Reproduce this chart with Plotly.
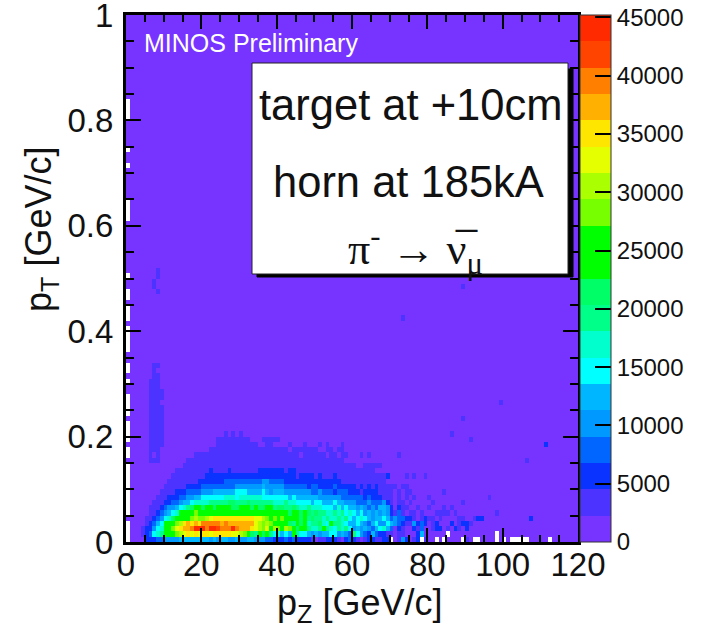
import plotly.graph_objects as go

# Colour level per bin of the pT-pZ histogram.
# One string per pT bin (0.01 GeV/c), one character per pZ bin (1 GeV/c).
# Characters 0-9,a-j are the 20 palette levels; '.' is an empty (white) bin.
ROW_LEVELS = [
    ".000022233 4444555555 5545455445 4455444332 2232322221 0112221023 2101221122 .0142012.1 00.0.0000. 10..0000.0 .0.....000 00.0000000",
    ".000123678 aabcdefefe ffefffffee dca98a9b86 7565a86654 5455664543 8643253221 1011000250 00000.0000 00000000.0",
    ".000122467 abcefgghjj jhjjihhhjh gggfedcebd cbdca9ba87 78a8768786 4545435675 3021002130 0122010210 2000000000",
    ".000012356 abbcdfgfgf hhhhhghggg ggggedcdcb aba98b9a78 8976a88765 5654356446 5432114232 0120002012 2100000000",
    "0000011234 679aaabcdc cdefffffff ffffeedcbc bcabab9a89 8878778786 5676545565 3433221012 1101000011 0012200000 0000000200",
    ".000001123 4567aaabcb aaaabbaabb bbbbabaaab aba9aa9a98 9887787867 6564545454 2131011010 0011110100 0000000010",
    ".000001112 34456789aa 9aa9aaaa99 aaa9a99aa8 9988987787 7766657565 5454343554 2021100100 1000101000",
    ".000000111 2233455677 7788888998 8898888887 7787766665 6655565544 4333433342 1011010000 0100000001",
    ".000000011 1222334455 6666667776 7777776666 6665655555 5444444333 3332322211 1010101000 1000000000 0000001000",
    ".000000001 1112223333 4445555556 6655556545 5544444443 3433323332 2212222111 1010110000 0000100000",
    ".000000000 1111112222 3333333334 4444445444 4433333323 3222232222 2121212111 1101100000",
    ".000000000 0111111112 2222223333 3333334433 3322222222 2222222111 1111111110",
    ".000000000 0011111111 1222222222 2222222222 2222212222 1211121111 1111111112 0000101001",
    ".000000000 0001111111 1121111211 1111122222 2212211111 1111111111 1111110000",
    ".000000000 0000011111 1111111111 1111111111 1111111111 1111111111 1001111100",
    "0000001110 0000001111 1111111111 1111111111 1111111111 1111111100 0000000000 0000000000 0000000000 0000000000 0000001000",
    ".000001010 0000000011 1111111111 1111111111 1111110111 1110110110 0010100000 0010000000",
    ".000001110 0000000000 0011111111 1111111111 1110111111 1001101100",
    "0000001111 0000000000 0000111111 1111100110 0001000100 0101000100 0000000000 0000000000 0000000000 0000000000 0000000000 0200000000",
    ".000001111 0000000000 0000111111 1110001111 1000000000 0000000000 0000000000 0000000000 0000000000 0100000000",
    ".000001111 0000000000 0000001010 1000000000 0000000000 0000000000 0000000000 0000000000 0000001000",
    ".000001111",
    ".000001111",
    "0000001111 0000000000 0000000000 0000000000 0000000000 0000000000 0000000000 0000000000 0000000001",
    ".000001111",
    ".000001111",
    ".000001110 0000000000 0000000000 0000000000 0000000000 0000000000 0000000000 0000000000 0000000000 0000000001",
    ".000001111",
    "0000001111",
    "0000001110",
    ".000001110",
    "0000000110",
    ".000000100",
    ".000000110",
]
# Isolated rows higher up the plot, keyed by pT bin.
UPPER_ROWS = {
    36: ".", 37: ".", 38: ".", 39: ".", 40: ".", 42: ".0000000000 0000000000 0000000000 0000000000 0000000000 0000000000 0000000000 0010000000",
    43: ".", 44: ".", 46: ".", 47: ".000000010", 48: "0000000100 0000000000 0000000000 0000000000 0000000000 0000000000 0000000000 0000000000 0000000001",
    49: "0000000100", 50: ".000000010", 51: "0000000010",
    61: ".", 62: ".", 63: ".", 64: ".", 71: ".", 74: ".", 80: ".", 81: ".", 82: ".", 83: ".",
}
N_X = 120
N_Y = 100
LEVEL_WIDTH = 2260
PALETTE = [
    "#7733ff", "#4d33ff", "#0a33ff", "#0066ff", "#0099ff", "#00b7ff", "#00ffff",
    "#00ffcc", "#00ff88", "#00ff66", "#00ff00", "#00ff00", "#77ff00", "#aaff00",
    "#e5ff00", "#ffe600", "#ffb000", "#ff8000", "#ff4400", "#ff2a00",
]
COLORBAR_DTICK = 5000
X_DTICK = 20
X_MINOR_DTICK = 5
Y_DTICK = 0.2
Y_MINOR_DTICK = 0.05

CHARS = "0123456789abcdefghij"


def decode(text):
    text = text.replace(" ", "").ljust(N_X, "0")
    return [None if c == "." else (CHARS.index(c) + 0.5) * LEVEL_WIDTH for c in text]


rows = [decode(r) for r in ROW_LEVELS]
for j in range(len(rows), N_Y):
    rows.append(decode(UPPER_ROWS.get(j, "")))

zmax = LEVEL_WIDTH * len(PALETTE)
scale = []
for k, c in enumerate(PALETTE):
    scale += [[k / len(PALETTE), c], [(k + 1) / len(PALETTE), c]]

FONT = "Liberation Sans"
W, H = 702, 634
L, R, T, B = 126, 578, 15, 542


def px(x):
    return (x - L) / (R - L)


def py(y):
    return (B - y) / (B - T)


fig = go.Figure(go.Heatmap(
    z=rows, x0=0.5, dx=1, y0=0.005, dy=0.01,
    zmin=0, zmax=zmax, colorscale=scale, hoverongaps=False, xgap=0, ygap=0,
    colorbar=dict(
        thickness=31, thicknessmode="pixels",
        len=B - T, lenmode="pixels", y=py(B), yanchor="bottom", ypad=0,
        x=px(580), xanchor="left", xpad=0,
        tickmode="linear", tick0=0, dtick=COLORBAR_DTICK, tickformat="d",
        ticks="inside", ticklen=16, tickcolor="black",
        tickwidth=2, outlinecolor="#333333", outlinewidth=1,
        ticklabeloverflow="allow",
        tickfont=dict(family=FONT, size=24, color="#111111"),
    ),
))

axis_common = dict(
    showgrid=False, zeroline=False, showline=True, linecolor="black", linewidth=3,
    mirror="allticks", ticks="inside", tickcolor="black", tickwidth=2, layer="above traces",
    ticklabeloverflow="allow", tickmode="linear", tick0=0,
    tickfont=dict(family=FONT, size=33, color="#111111"),
)
fig.update_xaxes(
    range=[0, 120], dtick=X_DTICK, ticklen=14, ticklabelstandoff=-9, **axis_common,
    minor=dict(dtick=X_MINOR_DTICK, tick0=0, ticks="inside", ticklen=7, tickcolor="black", tickwidth=2),
)
fig.update_yaxes(
    range=[0, 1], dtick=Y_DTICK, ticklen=15, ticklabelstandoff=3, **axis_common,
    minor=dict(dtick=Y_MINOR_DTICK, tick0=0, ticks="inside", ticklen=8, tickcolor="black", tickwidth=2),
)


def rect(x0, y0, x1, y1, fill, line=None):
    fig.add_shape(type="rect", xref="paper", yref="paper", x0=px(x0), x1=px(x1), y0=py(y1), y1=py(y0),
                  fillcolor=fill, line=dict(color=line or fill, width=1), layer="above")


rect(257, 69, 573, 277, "#000000")
rect(252, 63, 568, 274, "#ffffff", "#222222")


def note(text, x, y, size, color="#111111", family=FONT, angle=0, anchor="center"):
    fig.add_annotation(text=text, xref="paper", yref="paper", x=px(x), y=py(y), showarrow=False,
                       xanchor=anchor, yanchor="middle", textangle=angle,
                       font=dict(family=family, size=size, color=color))


note("MINOS Preliminary", 142, 43, 25, "#ffffff", anchor="left")
note("target at +10cm", 410, 105, 43.5)
note("horn at 185kA", 408, 182, 43.5)
note("π<sup>-</sup> → ν\u0305<sub>μ</sub>", 415, 250, 44, family="Liberation Serif")
note("p<sub>T</sub> [GeV/c]", 41, 230, 36, angle=-90)
note("p<sub>Z</sub> [GeV/c]", 359, 605, 36)

fig.update_layout(
    width=W, height=H, margin=dict(l=L, r=W - R, t=T, b=H - B, pad=0, autoexpand=False),
    paper_bgcolor="#ffffff", plot_bgcolor="#ffffff", showlegend=False,
)
fig.write_html("out.html", config={"displayModeBar": False}, post_script="document.body.style.margin='0';")
